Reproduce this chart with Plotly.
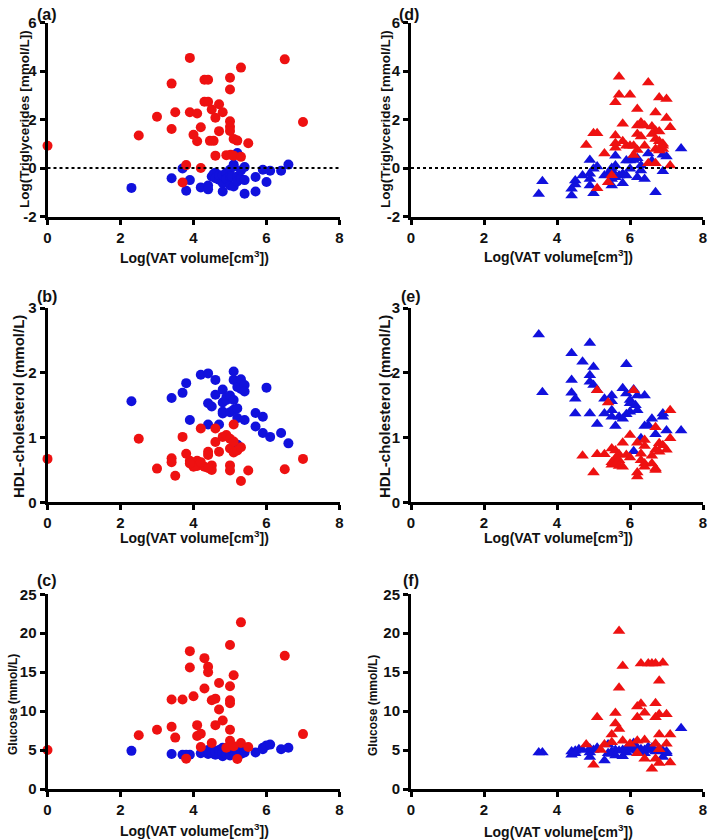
import plotly.graph_objects as go
from plotly.subplots import make_subplots

# ---------------- data ----------------
# (a) Log(Triglycerides) vs Log(VAT) - circles
a_red_x = [0.0, 2.5, 3.0, 3.4, 3.4, 3.5, 3.7, 3.8, 3.9, 3.9, 4.0, 4.1, 4.1, 4.2, 4.2, 4.3, 4.4, 4.3, 4.4, 4.45, 4.55,
           4.5, 4.6, 4.6, 4.7, 4.7, 4.8, 4.9, 5.0, 5.0, 5.0, 5.0, 5.0, 5.02, 5.1, 5.2, 5.1, 5.3, 5.3, 5.5, 6.5, 7.0]
a_red_y = [0.92, 1.34, 2.11, 3.48, 1.61, 2.3, -0.6, 0.12, 4.54, 2.3, 1.37, 2.25, 1.1, 1.68, 0.0, 3.64, 3.64, 2.73, 2.73, 1.12, 1.12,
           2.41, 2.07, 0.51, 2.63, 1.52, 2.3, 0.53, 3.72, 3.24, 1.93, 1.7, 1.53, 0.55, 1.2, 1.13, 0.51, 4.14, 0.46, 1.02, 4.48, 1.9]
a_blue_x = [2.3, 3.4, 3.7, 3.8, 3.9, 4.2, 4.4, 4.4, 4.5, 4.55, 4.6, 4.6, 4.7, 4.7, 4.8, 4.8, 4.8, 4.9, 4.9, 5.0, 5.0,
            5.0, 5.05, 5.1, 5.1, 5.1, 5.2, 5.2, 5.2, 5.3, 5.3, 5.4, 5.4, 5.4, 5.7, 5.7, 5.9, 6.0, 6.1, 6.4, 6.6]
a_blue_y = [-0.82, -0.42, -0.02, -0.94, -0.5, -0.8, -0.72, -0.88, -0.35, -0.25, -0.2, -0.42, -0.48, -0.3, -0.97, -0.62, -0.3,
            -0.2, -0.45, -0.07, -0.72, -0.35, -0.35, 0.14, 0.06, -0.76, 0.62, -0.35, -0.55, -0.45, -0.1, 0.04, -0.5, -1.06,
            -0.37, -0.97, -0.07, -0.58, -0.11, -0.11, 0.14]

# (b) HDL-cholesterol vs Log(VAT) - circles
b_red_x = [0.0, 2.5, 3.0, 3.4, 3.4, 3.5, 3.7, 3.8, 3.9, 4.0, 4.1, 4.1, 4.2, 4.3, 4.2, 4.4, 4.4, 4.5, 4.5, 4.6, 4.6, 4.7,
           4.8, 4.9, 5.0, 5.1, 5.0, 5.1, 5.2, 5.3, 5.0, 5.0, 5.1, 5.3, 5.5, 6.5, 7.0, 4.0, 4.4, 4.2, 3.9]
b_red_y = [0.67, 0.98, 0.52, 0.68, 0.62, 0.41, 1.01, 0.75, 0.64, 0.6, 0.56, 0.64, 0.58, 0.55, 1.14, 0.78, 0.73, 0.57, 0.5,
           1.14, 0.93, 0.78, 1.01, 1.04, 0.98, 1.2, 0.83, 0.77, 0.8, 0.85, 0.57, 0.49, 0.94, 0.33, 0.49, 0.51, 0.67, 0.55,
           0.53, 0.62, 0.6]
b_blue_x = [2.3, 3.4, 3.7, 3.8, 3.9, 4.2, 4.4, 4.4, 4.5, 4.4, 4.6, 4.6, 4.7, 4.8, 4.8, 4.8, 4.8, 4.9, 4.9, 5.0, 5.0, 5.1,
            5.1, 5.1, 5.1, 5.2, 5.2, 5.2, 5.2, 5.3, 5.3, 5.4, 5.4, 5.4, 5.7, 5.7, 5.9, 5.9, 6.0, 6.1, 6.4, 6.6]
b_blue_y = [1.56, 1.61, 1.69, 1.84, 1.27, 1.97, 1.99, 1.53, 1.48, 1.2, 1.89, 1.66, 1.2, 1.74, 1.54, 1.4, 1.37, 1.62, 1.58,
            1.65, 1.39, 2.02, 1.89, 1.58, 1.43, 1.78, 1.45, 1.3, 0.89, 1.9, 1.75, 1.81, 1.71, 1.27, 1.38, 1.17, 1.32, 1.07,
            1.77, 1.01, 1.07, 0.91]

# (c) Glucose vs Log(VAT) - circles
c_red_x = [0.0, 2.5, 3.0, 3.4, 3.4, 3.5, 3.7, 3.8, 3.9, 3.9, 4.0, 4.1, 4.1, 4.2, 4.2, 4.3, 4.3, 4.4, 4.4, 4.5, 4.5, 4.6,
           4.6, 4.7, 4.7, 4.8, 5.0, 5.0, 5.0, 5.0, 5.0, 5.0, 5.1, 5.3, 5.3, 5.2, 5.5, 6.5, 7.0, 4.9, 5.1]
c_red_y = [5.0, 6.9, 7.6, 11.5, 8.0, 6.6, 11.5, 3.9, 17.7, 15.6, 11.9, 8.2, 6.8, 7.1, 5.4, 16.8, 12.9, 15.7, 15.0, 11.4,
           5.9, 11.6, 8.2, 13.6, 10.2, 8.8, 18.5, 13.2, 11.4, 11.0, 7.6, 6.2, 14.6, 21.4, 5.9, 3.85, 5.4, 17.1, 7.05, 5.3, 5.5]
c_blue_x = [2.3, 3.4, 3.7, 3.8, 3.9, 4.2, 4.4, 4.4, 4.5, 4.5, 4.6, 4.6, 4.7, 4.7, 4.8, 4.8, 4.8, 4.9, 4.9, 5.0, 5.0, 5.0,
            5.0, 5.1, 5.1, 5.1, 5.2, 5.2, 5.2, 5.3, 5.3, 5.4, 5.4, 5.4, 5.7, 5.9, 5.9, 6.0, 6.1, 6.4, 6.6]
c_blue_y = [4.9, 4.5, 4.4, 4.4, 4.4, 4.6, 4.5, 5.0, 5.1, 4.6, 4.4, 4.8, 4.5, 5.0, 4.2, 5.3, 4.7, 5.0, 4.5, 5.3, 4.8, 4.3,
            5.0, 4.6, 5.2, 4.9, 4.4, 5.0, 5.2, 4.8, 4.5, 5.0, 4.7, 5.3, 4.7, 5.3, 5.1, 5.6, 5.7, 5.1, 5.3]

# (d) Log(Triglycerides) vs Log(VAT) - triangles
d_red_x = [5.7, 6.5, 5.7, 6.0, 5.6, 6.8, 7.0, 6.2, 6.7, 7.0, 5.8, 6.2, 6.3, 6.4, 6.6, 6.7, 6.8, 7.1, 5.0, 5.1, 5.6, 6.2,
           6.3, 6.6, 6.7, 6.8, 5.8, 4.8, 5.6, 5.6, 5.9, 6.0, 6.1, 6.4, 6.9, 6.9, 6.9, 6.7, 6.8, 6.2, 5.3, 6.1, 6.5, 6.7,
           7.1, 5.1, 5.4, 5.5]
d_red_y = [3.76, 3.53, 3.02, 3.02, 2.71, 2.91, 2.85, 2.43, 2.29, 2.06, 1.82, 1.75, 1.88, 1.75, 1.71, 1.54, 1.51, 1.68,
           1.43, 1.43, 1.34, 1.4, 1.3, 1.4, 1.2, 1.1, 1.1, 0.95, 1.02, 0.83, 0.92, 0.92, 0.92, 0.92, 1.0, 0.92, 0.78,
           0.78, 0.72, 0.74, 0.6, 0.54, 0.2, 0.2, 0.1, -0.83, -0.59, -0.3]
d_blue_x = [3.5, 3.6, 4.4, 4.4, 4.5, 4.5, 4.7, 4.9, 4.9, 4.9, 4.9, 5.0, 5.0, 5.1, 5.3, 5.4, 5.5, 5.5, 5.5, 5.6, 5.6, 5.6,
            5.7, 5.8, 5.9, 5.8, 5.9, 6.0, 6.0, 6.1, 6.2, 6.3, 6.2, 6.4, 6.5, 6.6, 6.7, 6.9, 7.0, 6.9, 7.4, 5.5, 6.3]
d_blue_y = [-1.07, -0.55, -1.13, -0.86, -0.68, -0.52, -0.31, 0.33, -0.24, -0.45, -0.72, -1.04, -0.03, 0.06, -0.31, -0.24,
            -0.72, -0.45, -0.1, 0.1, 0.51, -0.38, -0.31, -0.24, -0.31, -0.63, 0.31, 0.31, -0.03, 0.33, 0.4, -0.1, -0.38,
            -0.45, 0.6, 0.3, -1.0, 0.55, 0.47, -0.13, 0.8, 0.0, 0.1]

# (e) HDL-cholesterol vs Log(VAT) - triangles
e_red_x = [4.7, 5.0, 5.1, 5.1, 5.3, 5.4, 5.5, 5.5, 5.5, 5.6, 5.6, 5.6, 5.7, 5.7, 5.7, 5.8, 5.8, 5.9, 6.0, 6.0, 6.1, 6.2,
           6.2, 6.2, 6.3, 6.3, 6.4, 6.4, 6.4, 6.4, 6.6, 6.6, 6.7, 6.7, 6.7, 6.7, 6.8, 6.9, 7.0, 7.1, 7.1, 6.8]
e_red_y = [0.72, 0.46, 1.73, 0.74, 0.74, 1.54, 0.83, 0.62, 0.58, 0.8, 0.68, 0.6, 0.74, 0.65, 0.56, 0.55, 0.92, 0.73, 0.69,
           1.04, 1.73, 0.46, 0.4, 0.92, 0.75, 0.65, 0.96, 0.87, 0.6, 0.55, 0.6, 0.72, 1.16, 0.81, 0.52, 0.5, 0.91, 0.88,
           0.81, 0.99, 1.42, 0.78]
e_blue_x = [3.5, 3.6, 4.4, 4.4, 4.4, 4.5, 4.5, 4.7, 4.9, 4.9, 4.9, 4.9, 5.0, 5.0, 5.1, 5.1, 5.3, 5.3, 5.5, 5.5, 5.5, 5.5,
            5.6, 5.7, 5.8, 5.8, 5.9, 5.9, 5.9, 6.0, 6.0, 6.0, 6.1, 6.2, 6.15, 6.2, 6.4, 6.4, 6.5, 6.6, 6.9, 6.9, 6.7,
            7.0, 7.4, 6.3, 6.1]
e_blue_y = [2.59, 1.7, 2.3, 1.89, 1.69, 1.6, 1.37, 2.17, 2.46, 1.96, 1.86, 1.37, 2.09, 1.81, 1.73, 1.21, 1.6, 1.37, 1.65,
            1.56, 1.42, 1.32, 1.18, 1.32, 1.29, 1.76, 2.13, 1.68, 1.36, 1.58, 1.53, 1.4, 1.74, 1.65, 1.5, 1.42, 1.65, 1.18,
            1.19, 1.29, 1.32, 1.37, 1.05, 1.11, 1.11, 0.99, 0.79]

# (f) Glucose vs Log(VAT) - triangles
f_red_x = [4.8, 5.0, 5.1, 5.2, 5.3, 5.5, 5.5, 5.6, 5.6, 5.7, 5.7, 5.7, 5.8, 5.8, 6.0, 6.2, 6.2, 6.2, 6.2, 6.3, 6.3, 6.4,
           6.4, 6.4, 6.5, 6.6, 6.6, 6.7, 6.7, 6.7, 6.7, 6.7, 6.8, 6.8, 6.8, 6.8, 6.8, 6.9, 7.0, 7.0, 7.1, 7.1]
f_red_y = [5.7, 3.1, 9.2, 5.0, 5.7, 7.0, 6.0, 9.75, 8.4, 7.7, 20.3, 13.0, 15.8, 6.2, 5.8, 10.6, 9.2, 6.2, 4.6, 16.1, 10.95,
           9.8, 6.3, 3.9, 16.1, 16.1, 2.6, 16.1, 11.0, 9.2, 5.8, 3.9, 13.9, 9.6, 7.0, 5.1, 3.35, 16.2, 9.6, 5.8, 7.0, 3.4]
f_blue_x = [3.5, 3.6, 4.4, 4.4, 4.5, 4.5, 4.6, 4.7, 4.9, 4.9, 4.9, 5.0, 5.1, 5.3, 5.4, 5.5, 5.5, 5.6, 5.6, 5.7, 5.8, 5.8,
            5.9, 5.9, 6.0, 6.0, 6.1, 6.1, 6.2, 6.2, 6.3, 6.4, 6.4, 6.5, 6.6, 6.7, 6.8, 6.9, 6.9, 7.0, 7.0, 7.4, 6.6, 5.4]
f_blue_y = [4.7, 4.7, 4.4, 4.8, 4.9, 4.6, 5.1, 5.0, 5.2, 4.1, 4.7, 5.0, 5.3, 3.65, 5.7, 4.8, 4.5, 5.0, 4.3, 4.9, 4.2, 5.0,
            4.7, 5.2, 5.0, 5.4, 5.9, 5.6, 5.2, 4.9, 5.1, 4.6, 5.0, 5.4, 5.0, 4.8, 5.2, 4.1, 4.9, 4.6, 4.8, 7.8, 5.3, 4.6]

x_ticks = [0, 2, 4, 6, 8]
tg_ticks = [-2, 0, 2, 4, 6]
hdl_ticks = [0, 1, 2, 3]
glu_ticks = [0, 5, 10, 15, 20, 25]

x_title = "Log(VAT volume[cm<sup>3</sup>])"
panel_labels = ["(a)", "(d)", "(b)", "(e)", "(c)", "(f)"]
y_titles = ["Log(Triglycerides [mmol/L])", "Log(Triglycerides [mmol/L])",
            "HDL-cholesterol (mmol/L)", "HDL-cholesterol (mmol/L)",
            "Glucose (mmol/L)", "Glucose (mmol/L)"]

RED = "#ee1111"
BLUE = "#1111dd"
W, H = 709, 840
FONT = "Liberation Sans, Arial, sans-serif"
TXT = "#111111"

fig = make_subplots(rows=3, cols=2)

panels = [
    (1, 1, a_red_x, a_red_y, a_blue_x, a_blue_y, "circle", tg_ticks),
    (1, 2, d_red_x, d_red_y, d_blue_x, d_blue_y, "triangle-up", tg_ticks),
    (2, 1, b_red_x, b_red_y, b_blue_x, b_blue_y, "circle", hdl_ticks),
    (2, 2, e_red_x, e_red_y, e_blue_x, e_blue_y, "triangle-up", hdl_ticks),
    (3, 1, c_red_x, c_red_y, c_blue_x, c_blue_y, "circle", glu_ticks),
    (3, 2, f_red_x, f_red_y, f_blue_x, f_blue_y, "triangle-up", glu_ticks),
]

# pixel geometry of plot areas
col_px = {1: (47.5, 339.5), 2: (411.0, 703.0)}
row_px = {1: (22.5, 216.5), 2: (308.0, 502.3), 3: (594.3, 789.0)}

for r, c, rx, ry, bx, by, sym, yt in panels:
    msize = 10 if sym == "circle" else 11
    fig.add_trace(go.Scatter(x=bx, y=by, mode="markers", cliponaxis=False,
                             marker=dict(symbol=sym, size=msize, color=BLUE, line=dict(width=0))),
                  row=r, col=c)
    fig.add_trace(go.Scatter(x=rx, y=ry, mode="markers", cliponaxis=False,
                             marker=dict(symbol=sym, size=msize, color=RED, line=dict(width=0))),
                  row=r, col=c)
    x0, x1 = col_px[c]
    y0, y1 = row_px[r]
    axstyle = dict(showline=True, linecolor="black", linewidth=3, ticks="outside", ticklen=5,
                   tickwidth=3, tickcolor="black", showgrid=False, zeroline=False, mirror=False,
                   automargin=False,
                   tickfont=dict(family=FONT, size=15, color=TXT, weight="bold"))
    fig.update_xaxes(range=[0, 8], tickvals=x_ticks, ticktext=[str(v) for v in x_ticks],
                     domain=[x0 / W, x1 / W], row=r, col=c, **axstyle)
    fig.update_yaxes(range=[yt[0], yt[-1]], tickvals=yt, ticktext=[str(v) for v in yt],
                     domain=[1 - y1 / H, 1 - y0 / H], row=r, col=c, **axstyle)

# dotted reference lines at y = 0 for triglycerides panels
for xr, yr in [("x", "y"), ("x2", "y2")]:
    fig.add_shape(type="line", xref=xr, yref=yr, x0=0, x1=8, y0=0, y1=0,
                  line=dict(color="black", width=2, dash="dot"))

annotations = []
# panel labels
label_pos = [(47, 14), (409, 14), (47, 296), (411, 296), (47, 580), (411, 580)]
for txt, (px, py) in zip(panel_labels, label_pos):
    annotations.append(dict(text="<b>" + txt + "</b>", x=px / W, y=1 - py / H, xref="paper", yref="paper",
                            showarrow=False, xanchor="center", yanchor="middle",
                            font=dict(family=FONT, size=16, color=TXT)))
# x-axis titles
xt_pos = [(194, 257), (558, 256), (194, 537), (558, 537), (194, 830), (558, 831)]
for px, py in xt_pos:
    annotations.append(dict(text="<b>" + x_title + "</b>", x=px / W, y=1 - py / H, xref="paper", yref="paper",
                            showarrow=False, xanchor="center", yanchor="middle",
                            font=dict(family=FONT, size=14, color=TXT)))
# y-axis titles
yt_pos = [(25, 119, 13.5), (386, 119, 13.5), (18, 407, 15), (384, 407, 15), (13, 705, 12), (373, 705, 12)]
for txt, (px, py, fs) in zip(y_titles, yt_pos):
    annotations.append(dict(text="<b>" + txt + "</b>", x=px / W, y=1 - py / H, xref="paper", yref="paper",
                            showarrow=False, xanchor="center", yanchor="middle", textangle=-90,
                            font=dict(family=FONT, size=fs, color=TXT)))

fig.update_layout(width=W, height=H, margin=dict(l=0, r=0, t=0, b=0, autoexpand=False),
                  paper_bgcolor="white", plot_bgcolor="white", showlegend=False,
                  annotations=annotations)

fig.write_html("out.html", config={"displayModeBar": False},
               post_script="document.body.style.margin='0';document.body.style.overflow='hidden';")
